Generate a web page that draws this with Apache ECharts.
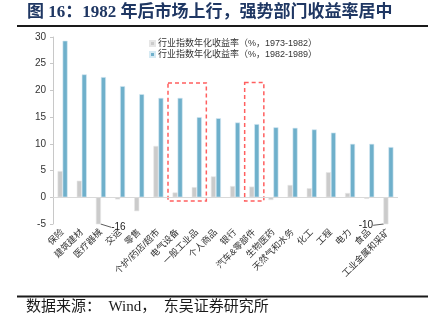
<!DOCTYPE html>
<html>
<head>
<meta charset="utf-8">
<script src="https://cdn.jsdelivr.net/npm/echarts@6/dist/echarts.min.js"></script>
<style>
html,body{margin:0;padding:0;background:#fff;}
#c{width:435px;height:332px;}
</style>
</head>
<body>
<div id="c"></div>
<script>
var categories = ['保险','建筑建材','医疗器械','交运','零售','个护/药店/超市','电气设备','一般工业品','个人商品','银行','汽车&零部件','生物医药','天然气和水务','化工','工程','电力','食品','工业金属和采矿'];
var series1973 = [4.9, 3.1, -16, -0.4, -2.6, 9.6, 0.9, 1.9, 3.9, 2.1, 2.0, -0.5, 2.3, 1.7, 4.7, 0.8, -0.3, -10];
var series1982 = [29.3, 23.0, 22.5, 20.8, 19.3, 18.6, 18.6, 15.0, 14.8, 14.0, 13.7, 13.1, 13.0, 12.7, 12.1, 10.0, 10.0, 9.4];
var seriesNames = ['行业指数年化收益率（%，1973-1982）','行业指数年化收益率（%，1982-1989）'];
var yTicks = {min: -5, max: 30, interval: 5};
// highlight boxes: [startCategoryIndex, endCategoryIndex(exclusive), topValue, bottomValue]
var highlightBoxes = [[6, 8, 21.4, -0.7], [10, 11, 21.5, -0.7]];
var titleText = '图 16：1982 年后市场上行，强势部门收益率居中';
var sourceText = '数据来源：  Wind，  东吴证券研究所';

var FONT = '"Liberation Sans","Noto Sans CJK SC",sans-serif';
var chart = echarts.init(document.getElementById('c'), null, {renderer: 'canvas'});

var grayData = series1973.map(function (v, i) {
  var item = {value: v};
  if (v < yTicks.min) {
    item.label = {show: true, position: 'insideBottom', formatter: String(v), fontSize: 10, color: '#222', fontFamily: FONT};
    item.labelLine = {show: true, lineStyle: {color: '#333', width: 0.8}};
  }
  return item;
});

var option = {
  backgroundColor: '#fff',
  animation: false,
  title: {
    text: titleText,
    left: 22, top: -1,
    textStyle: {fontSize: 17, fontWeight: 'bold', color: '#1f3763', fontFamily: '"Liberation Serif","Noto Sans CJK SC",serif'}
  },
  graphic: [
    {type: 'line', shape: {x1: 17, y1: 26, x2: 428, y2: 26}, style: {stroke: '#1a1a1a', lineWidth: 2}},
    {type: 'line', shape: {x1: 17, y1: 296.5, x2: 428, y2: 296.5}, style: {stroke: '#1a1a1a', lineWidth: 2}},
    {type: 'text', left: 26, top: 300, style: {text: sourceText, fontSize: 15, fill: '#1a1a1a', fontFamily: '"Liberation Serif","Noto Sans CJK SC",serif'}}
  ],
  legend: {
    orient: 'vertical', left: 144, top: 34,
    itemWidth: 5, itemHeight: 5, itemGap: 2,
    icon: 'rect',
    data: seriesNames,
    textStyle: {fontSize: 9, color: '#333', fontFamily: FONT, padding: [0, 0, 0, -2]}
  },
  grid: {left: 53, right: 37, top: 37, bottom: 108, containLabel: false},
  xAxis: [
    {
      type: 'category', data: categories,
      axisLine: {show: false, onZero: false},
      axisTick: {show: false},
      axisLabel: {interval: 0, rotate: 45, fontSize: 9, color: '#333', margin: 7, fontFamily: FONT}
    },
    {type: 'value', min: 0, max: categories.length, show: false}
  ],
  yAxis: {
    type: 'value', min: yTicks.min, max: yTicks.max, interval: yTicks.interval,
    axisLine: {show: true, lineStyle: {color: '#c8c8c8'}},
    axisTick: {show: true, length: 3, lineStyle: {color: '#c8c8c8'}},
    splitLine: {show: false},
    axisLabel: {fontSize: 10, color: '#333', margin: 7, fontFamily: FONT}
  },
  series: [
    {
      name: seriesNames[0], type: 'bar', data: grayData,
      barWidth: 5, barGap: '0%', clip: true,
      itemStyle: {color: '#cbcbcb', borderColor: '#e6e6e6', borderWidth: 0.6},
      labelLayout: function (p) {
        if (p.dataIndex === 2) return {dx: 20, dy: 13};
        if (p.dataIndex === 17) return {dx: -20, dy: 11};
        return {};
      },
      markLine: {
        silent: true, symbol: 'none', label: {show: false},
        lineStyle: {color: '#d9d9d9', type: 'solid', width: 1},
        data: [{yAxis: 0}]
      }
    },
    {
      name: seriesNames[1], type: 'bar', data: series1982,
      barWidth: 5, clip: true,
      itemStyle: {color: '#6fb0cb', borderColor: '#d6eaf3', borderWidth: 0.6}
    },
    {
      type: 'line', xAxisIndex: 1, data: [], silent: true,
      markArea: {
        silent: true,
        itemStyle: {color: 'rgba(0,0,0,0)', borderColor: '#ff5f5f', borderWidth: 1.5, borderType: [4, 3]},
        data: highlightBoxes.map(function (b) {
          return [{xAxis: b[0], yAxis: b[2]}, {xAxis: b[1], yAxis: b[3]}];
        })
      }
    }
  ]
};
chart.setOption(option);
</script>
</body>
</html>
